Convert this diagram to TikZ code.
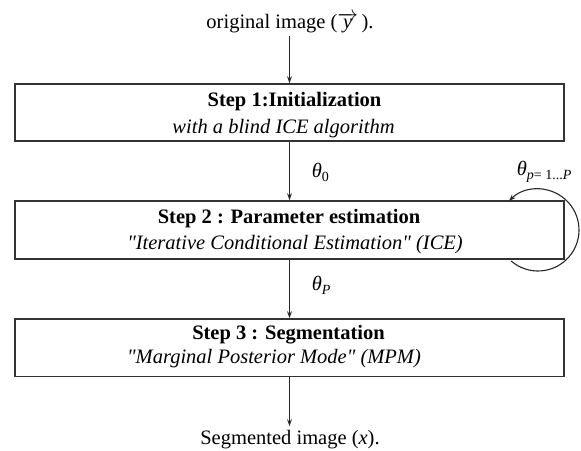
\documentclass[tikz,border=0pt]{standalone}
\usepackage{fontspec}
\setmainfont{Liberation Serif}
\usetikzlibrary{arrows.meta,calc}

\newcommand{\subtxt}[1]{\raisebox{-4.5pt}{\fontsize{14}{14}\selectfont #1}}
\newcommand{\sq}{\textquotedbl}

\begin{document}
\begin{tikzpicture}[x=1pt,y=-1pt,
  every node/.style={font=\fontsize{20.5}{24}\selectfont, inner sep=0pt},
  stepbox/.style={draw=black!80, line width=1.6pt, minimum width=549pt},
  flow/.style={draw=black!85, line width=1.1pt, -{Stealth[length=7pt,width=5pt,inset=2.5pt]}},
  boldline/.style={anchor=base, font=\fontsize{20.5}{24}\selectfont\bfseries},
  itline/.style={anchor=base, font=\fontsize{20.5}{24}\selectfont\itshape}]

\useasboundingbox (0,0) rectangle (581,450);

% the three processing steps
\node[stepbox, minimum height=57pt] (b1) at (289.5,112.5) {};
\node[stepbox, minimum height=58pt] (b2) at (289.5,230) {};
\node[stepbox, minimum height=57.5pt] (b3) at (289.5,347.7) {};

\node[boldline] (t1) at (294.5,106) {Step 1:Initialization};
\node[itline]   (s1) at (283.5,133) {with a blind ICE algorithm};
\node[boldline] (t2) at (289,223.5) {Step 2 : Parameter estimation};
\node[itline]   (s2) at (295,249.5) {\sq Iterative Conditional Estimation\sq{} (ICE)};
\node[boldline] (t3) at (288.5,339.5) {Step 3 : Segmentation};
\node[itline]   (s3) at (274,363) {\sq Marginal Posterior Mode\sq{} (MPM)};

% input and output
\node[anchor=base, inner ysep=3pt] (in) at (290,28.5) {original image ($\overrightarrow{\textit{y}}$\,).};
\node[anchor=base, inner ysep=4pt] (out) at (290,444.5) {Segmented image (\textit{x}).};

% flow between the steps
\draw[flow] (in.south -| b1.north) -- (b1.north);
\draw[flow] (b1.south) -- (b2.north);
\draw[flow] (b2.south) -- (b3.north);
\draw[flow] (b3.south) -- (out.north -| b3.south);

% parameter labels
\node[anchor=base west] (th0) at (311.7,177) {\textit{θ}\subtxt{0}};
\node[anchor=base west] (thP) at (311.7,290) {\textit{θ}\subtxt{\textit{P}}};
\node[anchor=base west] (thp) at (516.7,175) {\textit{θ}\subtxt{\textit{p}= 1...\textit{P}}};

% iteration loop around the estimation step
\coordinate (lc) at (538,230);
\draw[flow] ($(lc)+(131:41)$) arc[start angle=131, end angle=-135, radius=41];

\end{tikzpicture}
\end{document}
